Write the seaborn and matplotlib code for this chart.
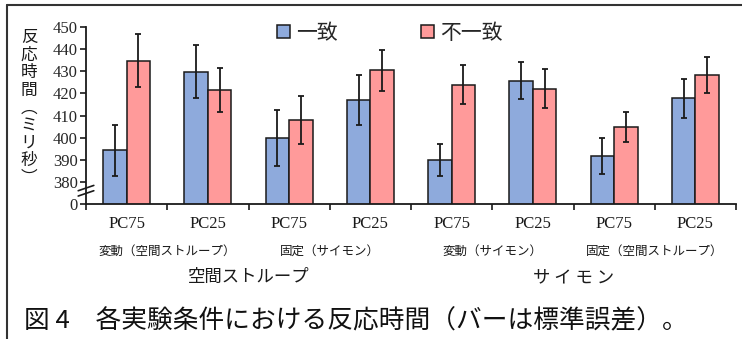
import numpy as np
import pandas as pd
import matplotlib
matplotlib.use("Agg")
import matplotlib.pyplot as plt
import matplotlib.transforms as mtransforms
from matplotlib.lines import Line2D
from matplotlib.patches import Patch
import seaborn as sns

# ---- data ----
pc_labels = ["PC75", "PC25", "PC75", "PC25", "PC75", "PC25", "PC75", "PC25"]
cond_labels = ["変動（空間ストループ）", "固定（サイモン）", "変動（サイモン）", "固定（空間ストループ）"]
task_labels = ["空間ストループ", "サ イ モ ン"]
hue_labels = ["一致", "不一致"]
mean_match = [394.3, 429.8, 399.7, 417.0, 389.8, 425.8, 391.7, 417.8]
mean_mismatch = [434.8, 421.5, 408.0, 430.4, 424.0, 422.2, 404.8, 428.3]
se_match = [11.5, 12.0, 12.6, 11.4, 7.3, 8.2, 8.3, 8.8]
se_mismatch = [12.1, 10.0, 10.8, 9.3, 9.0, 8.6, 6.8, 8.2]
ytick_values = [370, 380, 390, 400, 410, 420, 430, 440, 450]
ytick_labels = ["0", "380", "390", "400", "410", "420", "430", "440", "450"]

categories = [f"{cond_labels[i // 2]}-{pc_labels[i]}" for i in range(len(pc_labels))]
df = pd.DataFrame({
    "cat": categories * 2,
    "cond": [hue_labels[0]] * 8 + [hue_labels[1]] * 8,
    "rt": mean_match + mean_mismatch,
})

sns.set_style("ticks")
CJK = ["Noto Sans CJK JP", "DejaVu Sans"]
SERIF = ["Liberation Serif", "DejaVu Serif"]
plt.rcParams["font.family"] = CJK

W, H = 742, 339
fig = plt.figure(figsize=(W / 100, H / 100), dpi=100)
ax = fig.add_axes([86 / W, 1 - 204 / H, (736 - 86) / W, (204 - 27) / H])

blue = "#8eaadc"
red = "#ff9a9a"
sns.barplot(data=df, x="cat", y="rt", hue="cond", order=categories,
            hue_order=hue_labels, palette=[blue, red], saturation=1, width=0.58, gap=0,
            edgecolor="#1a1a1a", linewidth=1.1, errorbar=None, ax=ax,
            legend=False)

for cont, se in zip(ax.containers, [se_match, se_mismatch]):
    xs = [p.get_x() + p.get_width() / 2 for p in cont.patches]
    ys = [p.get_height() for p in cont.patches]
    ax.errorbar(xs, ys, yerr=se, fmt="none", ecolor="#1a1a1a",
                elinewidth=1.3, capsize=2.5, capthick=1.3, zorder=5)

ax.set_ylim(370, 450)
ax.set_xlim(-0.5, 7.5)
ax.set_yticks(ytick_values)
ax.set_yticklabels(ytick_labels, fontfamily=SERIF, fontsize=12)
ax.set_xticks(np.arange(-0.5, 8.0, 1.0))
ax.set_xticklabels([])
ax.tick_params(axis="both", direction="out", length=4, width=1.2, color="#1a1a1a", pad=2)
ax.set_xlabel("")
ax.set_ylabel("")
sns.despine(ax=ax)
for s in ["left", "bottom"]:
    ax.spines[s].set_linewidth(1.3)
    ax.spines[s].set_color("#1a1a1a")

# axis break marks
for dy in (0.0, 0.03):
    ax.plot([-0.012, 0.012], [0.045 + dy, 0.075 + dy], transform=ax.transAxes,
            color="#1a1a1a", lw=1.2, clip_on=False)

# category labels
tr = mtransforms.blended_transform_factory(ax.transData, fig.transFigure)
for i, lab in enumerate(pc_labels):
    ax.text(i, 1 - 224 / H, lab, transform=tr, ha="center", va="center",
            fontfamily=SERIF, fontsize=12, color="#1a1a1a")
for j, lab in enumerate(cond_labels):
    ax.text(2 * j + 0.5, 1 - 251 / H, lab, transform=tr, ha="center", va="center",
            fontsize=9, color="#1a1a1a")
for k, lab in enumerate(task_labels):
    ax.text(4 * k + 1.5, 1 - 277 / H, lab, transform=tr, ha="center", va="center",
            fontsize=12.5, color="#1a1a1a")

# y label (vertical characters)
ylab = "\n".join(list("反応時間︵ミリ秒︶"))
fig.text(29 / W, 1 - 108 / H, ylab, ha="center", va="center", fontsize=12,
         linespacing=1.05, color="#1a1a1a")

# legend
handles = [Patch(facecolor=blue, edgecolor="#1a1a1a", linewidth=1.1),
           Patch(facecolor=red, edgecolor="#1a1a1a", linewidth=1.1)]
fig.legend(handles, hue_labels, loc="center", bbox_to_anchor=(390 / W, 1 - 33 / H),
           ncol=2, frameon=False, fontsize=15, handlelength=0.6, handleheight=0.6,
           handletextpad=0.3, columnspacing=4.0)

# caption
fig.text(24 / W, 1 - 321 / H, "図 4　各実験条件における反応時間（バーは標準誤差）。",
         ha="left", va="center", fontsize=18.5, color="#111111")

# frame lines
fig.add_artist(Line2D([7 / W, 1.0], [1 - 5 / H, 1 - 5 / H], transform=fig.transFigure,
                      color="#333333", lw=1.5))
fig.add_artist(Line2D([7 / W, 7 / W], [0, 1 - 5 / H], transform=fig.transFigure,
                      color="#333333", lw=1.5))

fig.savefig("out.png", dpi=100)
